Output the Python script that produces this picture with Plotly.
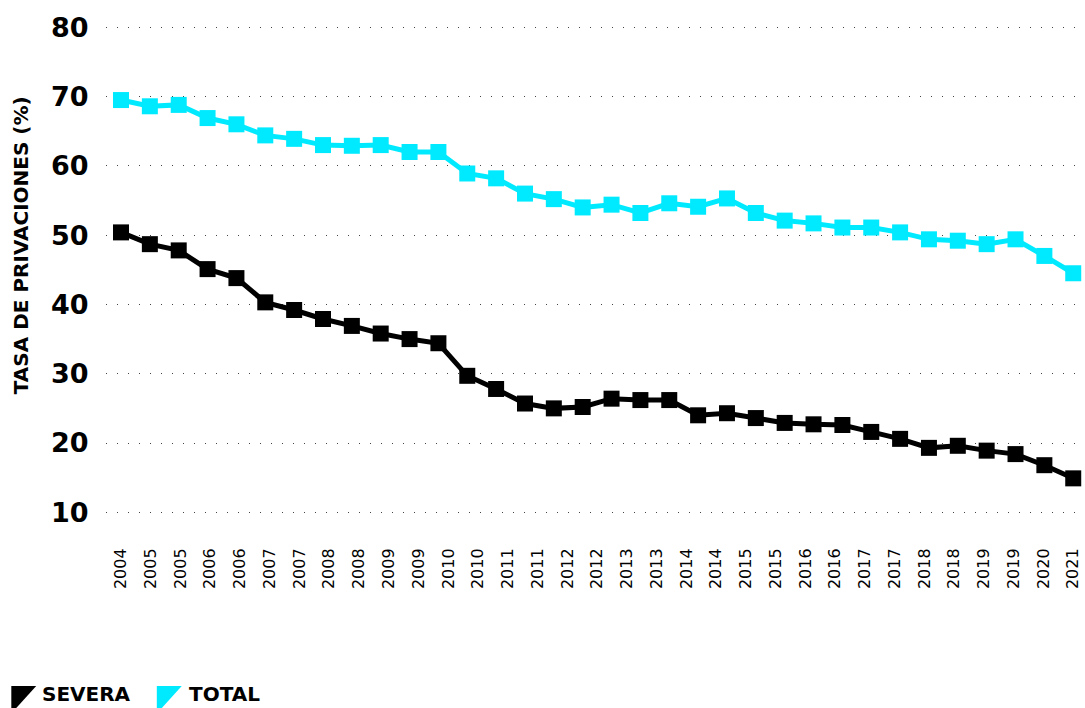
import plotly.graph_objects as go
import numpy as np

# ---- data ----
x_labels = ["2004", "2005", "2005", "2006", "2006", "2007", "2007", "2008", "2008",
            "2009", "2009", "2010", "2010", "2011", "2011", "2012", "2012", "2013",
            "2013", "2014", "2014", "2015", "2015", "2016", "2016", "2017", "2017",
            "2018", "2018", "2019", "2019", "2020", "2021"]
total = [69.5, 68.6, 68.8, 66.9, 66.0, 64.4, 63.9, 63.0, 62.9, 63.0, 62.0, 62.0,
         58.9, 58.2, 56.0, 55.2, 54.0, 54.4, 53.2, 54.6, 54.1, 55.3, 53.2, 52.1,
         51.7, 51.1, 51.1, 50.4, 49.4, 49.2, 48.7, 49.4, 47.0, 44.5]
severa = [50.4, 48.7, 47.8, 45.1, 43.8, 40.3, 39.2, 37.9, 36.9, 35.8, 35.0, 34.4,
          29.7, 27.8, 25.7, 25.0, 25.2, 26.4, 26.2, 26.2, 24.0, 24.3, 23.6, 22.9,
          22.7, 22.6, 21.6, 20.6, 19.3, 19.6, 18.9, 18.4, 16.8, 14.9]
y_ticks = [10, 20, 30, 40, 50, 60, 70, 80]
series_names = ["SEVERA", "TOTAL"]
series_colors = ["#000000", "#00EAFF"]

# ---- layout geometry (body margin removed by post_script) ----
W, H = 1085, 708
R = 3
L = 106                 # plot left at page x=106
T = 8                   # plot top at page y=8
B = H - 533             # plot bottom at page y=533
PW, PH = W - L - R, H - T - B
ppu = (512.3 - 27.3) / 70.0
y_top = 80 + (27.3 - T) / ppu
y_bot = 10 - (533 - 512.3) / ppu

def px2x(px):
    return (px - L) / PW

def px2y(py):
    return (H - B - py) / PH

idx = list(range(len(total)))
tick_pos = np.linspace(0, len(total) - 1, len(x_labels))

fig = go.Figure()
for name, vals, col in [("SEVERA", severa, series_colors[0]), ("TOTAL", total, series_colors[1])]:
    fig.add_trace(go.Scatter(
        x=idx, y=vals, name=name, mode="lines+markers",
        line=dict(color=col, width=5),
        marker=dict(symbol="square", size=16, color=col, line=dict(width=0)),
        showlegend=False, cliponaxis=False, hoverinfo="skip",
    ))

FONT = "DejaVu Sans"

fig.update_layout(
    width=W, height=H,
    margin=dict(l=L, r=R, t=T, b=B, pad=0),
    paper_bgcolor="white", plot_bgcolor="white",
    xaxis=dict(
        range=[-0.52, 33.2],
        tickmode="array", tickvals=tick_pos, ticktext=x_labels,
        tickangle=-90, showgrid=False, zeroline=False, showline=False,
        ticks="outside", ticklen=8, tickcolor="rgba(0,0,0,0)",
        ticklabeloverflow="allow",
        tickfont=dict(family=FONT, size=16, color="#000"),
    ),
    yaxis=dict(
        range=[y_bot, y_top],
        tickmode="array", tickvals=y_ticks,
        showgrid=True, gridcolor="#444", gridwidth=1, griddash="1px,10px",
        zeroline=False, showline=False,
        ticks="outside", ticklen=11, tickcolor="rgba(0,0,0,0)",
        tickfont=dict(family=FONT, size=27, color="#000", weight="bold"),
    ),
)

annotations = [
    dict(text="TASA DE PRIVACIONES (%)", textangle=-90, xref="paper", yref="paper",
         x=px2x(21), y=px2y(245), xanchor="center", yanchor="middle", showarrow=False,
         font=dict(family=FONT, size=20, color="#000", weight="bold")),
]
shapes = []
legend_items = [(11, 40, series_names[0], series_colors[0]), (157, 187, series_names[1], series_colors[1])]
for icon_x, text_x, name, col in legend_items:
    path = "M {} {} L {} {} L {} {} Z".format(
        px2x(icon_x), px2y(686), px2x(icon_x + 25), px2y(686), px2x(icon_x), px2y(713.5))
    shapes.append(dict(type="path", path=path, xref="paper", yref="paper",
                       fillcolor=col, line=dict(width=0)))
    annotations.append(dict(text=name, xref="paper", yref="paper",
                            x=px2x(text_x), y=px2y(694), xanchor="left", yanchor="middle",
                            showarrow=False,
                            font=dict(family=FONT, size=20, color="#000", weight="bold")))
fig.update_layout(annotations=annotations, shapes=shapes)

fig.write_html("out.html",
               config={"displayModeBar": False},
               post_script="document.body.style.margin='0';"
                           "document.documentElement.style.overflow='hidden';")
